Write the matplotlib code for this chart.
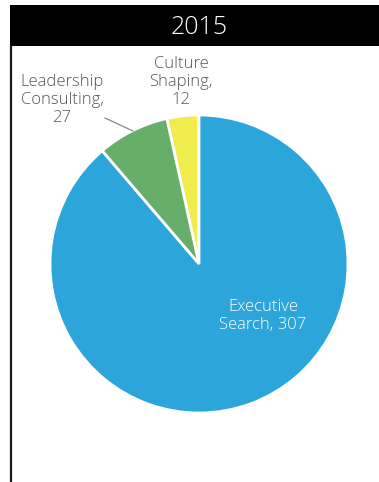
import matplotlib
matplotlib.use("Agg")
import matplotlib.pyplot as plt
from matplotlib.patches import Rectangle
from matplotlib.lines import Line2D

# Revenue split by practice, 2015
year = "2015"
categories = ["Culture Shaping", "Leadership Consulting", "Executive Search"]
values = [12, 27, 307]
colors = ["#F0EC4E", "#67AE6A", "#2CA6DA"]
label_texts = ["Culture\nShaping,\n12", "Leadership\nConsulting,\n27", "Executive\nSearch, 307"]

W, H = 379, 482
fig = plt.figure(figsize=(W / 100, H / 100), dpi=100)
ax = fig.add_axes([0, 0, 1, 1])

font = ["Open Sans", "DejaVu Sans"]

def py(y):
    return H - y

# pie
cx, cy, r = 199, py(264), 149
ax.pie(values, colors=colors, startangle=90, counterclock=True, center=(cx, cy), radius=r,
       wedgeprops=dict(edgecolor="white", linewidth=2), frame=True)
ax.set_xlim(0, W)
ax.set_ylim(0, H)
ax.set_aspect("equal")
ax.axis("off")

# header bar and left rule
ax.add_patch(Rectangle((10, py(46)), W - 10, 41, facecolor="black", edgecolor="none", zorder=1))
ax.add_line(Line2D([10.5, 10.5], [0, py(46)], color="#1a1a1a", linewidth=1.6, zorder=1))
ax.text(199, py(27), year, color="white", fontsize=18, family=font, fontweight="light",
        ha="center", va="center", zorder=2)

# labels
ax.text(181, py(82), label_texts[0], color="#555555", fontsize=12, family=font,
        fontweight="light", ha="center", va="center", linespacing=1.2)
ax.text(62, py(100), label_texts[1], color="#555555", fontsize=12, family=font,
        fontweight="light", ha="center", va="center", linespacing=1.2)
ax.add_line(Line2D([105, 133], [py(118), py(131)], color="#888888", linewidth=0.9))
ax.text(263, py(316), label_texts[2], color="white", fontsize=12, family=font,
        fontweight="light", ha="center", va="center", linespacing=1.2)

fig.savefig("out.png", dpi=100)
